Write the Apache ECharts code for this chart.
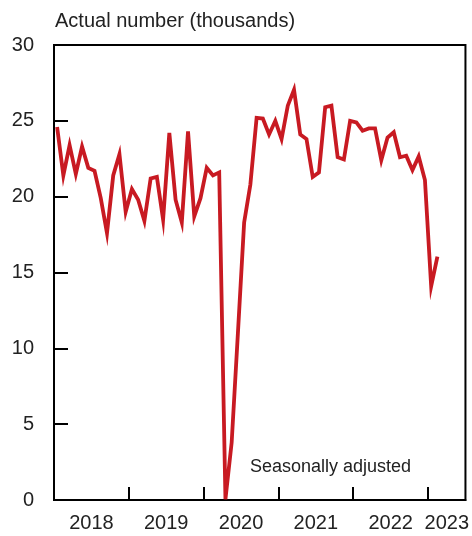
<!DOCTYPE html>
<html>
<head>
<meta charset="utf-8">
<script src="https://cdn.jsdelivr.net/npm/echarts@6/dist/echarts.min.js"></script>
<style>html,body{margin:0;padding:0;background:#fff}#c{width:472px;height:536px}</style>
</head>
<body>
<div id="c"></div>
<script>
// Monthly values, Jan 2018 – Feb 2023 (thousands)
const startYear = 2018;
const values = [
  24.6, 21.4, 23.4, 21.5, 23.3, 21.9, 21.7, 19.9, 17.6, 21.4, 22.8, 19.0,
  20.5, 19.8, 18.4, 21.2, 21.3, 18.5, 24.2, 19.8, 18.3, 24.3, 18.7, 19.9,
  21.9, 21.4, 21.6, 0.05, 3.8, 11.0, 18.3, 20.8, 25.2, 25.15, 24.1, 25.0,
  23.8, 26.0, 27.05, 24.1, 23.8, 21.3, 21.6, 25.9, 26.0, 22.6, 22.45, 25.0,
  24.9, 24.35, 24.5, 24.5, 22.4, 23.9, 24.25, 22.6, 22.7, 21.75, 22.65, 21.1,
  14.1, 16.05
];
const yearLabels = ['2018', '2019', '2020', '2021', '2022', '2023'];
const yTicks = [0, 5, 10, 15, 20, 25, 30];

const totalMonths = 66; // Jan 2018 – end Jun 2023
const seriesData = values.map((v, i) => [i + 0.5, v]);
const yearTickPos = yearLabels.map((y, i) => i * 12);
const yearLabelPos = yearLabels.map((y, i) => Math.min(i * 12 + 6, (i * 12 + totalMonths) / 2));

const chart = echarts.init(document.getElementById('c'), null, {renderer: 'canvas'});
const font = 'Liberation Sans, Arial, Helvetica, sans-serif';
chart.setOption({
  animation: false,
  grid: {left: 54, right: 6, top: 45, bottom: 36, show: true, borderColor: '#000', borderWidth: 2, backgroundColor: 'transparent'},
  title: {
    text: 'Actual number (thousands)', left: 50, top: 6,
    textStyle: {fontFamily: font, fontSize: 20, fontWeight: 'normal', color: '#222'}
  },
  graphic: [{
    type: 'text', left: 250, top: 458,
    style: {text: 'Seasonally adjusted', fontFamily: font, fontSize: 18, fill: '#222'}
  }],
  xAxis: {
    type: 'value', min: 0, max: totalMonths,
    axisLine: {show: true, lineStyle: {color: '#000', width: 2}},
    axisTick: {show: true, inside: true, length: 13, customValues: yearTickPos, lineStyle: {color: '#000', width: 2}},
    axisLabel: {
      customValues: yearLabelPos, margin: 13,
      fontFamily: font, fontSize: 20, color: '#222',
      formatter: v => yearLabels[Math.floor(v / 12)]
    },
    splitLine: {show: false}
  },
  yAxis: {
    type: 'value', min: 0, max: 30, interval: 5,
    axisLine: {show: true, lineStyle: {color: '#000', width: 2}},
    axisTick: {show: true, inside: true, length: 14, lineStyle: {color: '#000', width: 2}},
    axisLabel: {margin: 20, fontFamily: font, fontSize: 20, color: '#222',
      formatter: v => yTicks.includes(v) ? String(v) : ''},
    splitLine: {show: false}
  },
  series: [{
    type: 'line', data: seriesData, showSymbol: false,
    lineStyle: {color: '#c81a22', width: 3.8, join: 'miter'},
    itemStyle: {color: '#c81a22'}
  }]
});
</script>
</body>
</html>
